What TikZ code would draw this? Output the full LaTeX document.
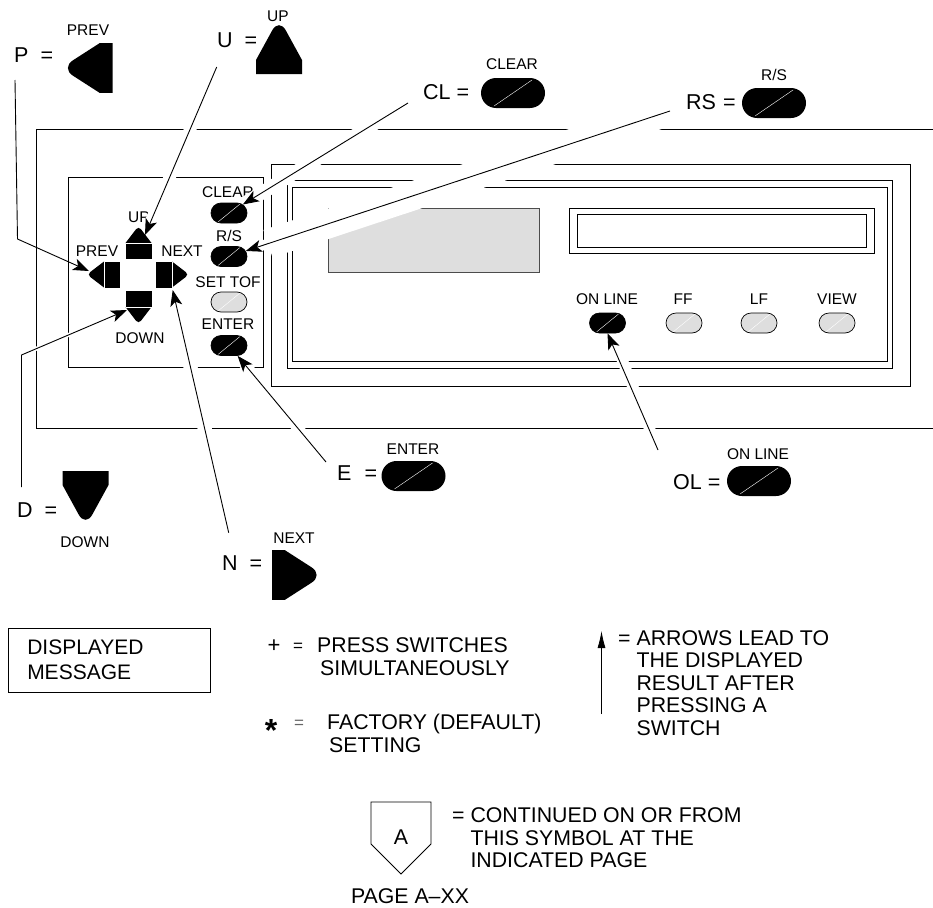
\documentclass[tikz,border=0pt]{standalone}
\usepackage{fontspec}
\setmainfont{Liberation Sans}
\usetikzlibrary{arrows.meta,shapes.misc}
\tikzset{
  frame/.style={line width=0.9pt},
  keylbl/.style={inner sep=0pt, font=\fontsize{15.5}{18}\selectfont},
  biglbl/.style={anchor=west, inner sep=0pt, font=\fontsize{21.5}{24}\selectfont},
  legend/.style={anchor=west, inner sep=0pt, align=left, font=\fontsize{21.3}{22.5}\selectfont},
  halo/.style={draw=white},
  lead/.style={line width=0.9pt, -{Stealth[length=16pt,width=12pt,inset=4pt]}},
  keysmall/.style={rounded rectangle, draw=black, line width=0.7pt, fill=#1, inner sep=0pt,
    minimum width=36pt, minimum height=20pt,
    path picture={\draw[white,line width=0.4pt] (path picture bounding box.center) +(-11,9) -- +(11,-9);}},
  keybig/.style={rounded rectangle, fill=black, inner sep=0pt,
    minimum width=64pt, minimum height=30pt,
    path picture={\draw[white,line width=0.4pt] (path picture bounding box.center) +(-19,13) -- +(19,-13);}},
  pics/bigarrow/.style={code={
    \fill (-23,0) -- (-23,-14) [rounded corners=14pt] -- (0,-56) [sharp corners] -- (23,-14) -- (23,0) -- cycle;}},
  pics/padkey/.style={code={
    \fill (-13,0) rectangle (13,-16);
    \fill (-13,-16) [rounded corners=4pt] -- (0,-33) [sharp corners] -- (13,-16) -- cycle;
    \draw[white,line width=0.5pt] (-13,-16) -- (13,-16);}}
}
\begin{document}
\begin{tikzpicture}[x=1pt,y=-1pt]
  \useasboundingbox (0,0) rectangle (933,907);
  % leader ends
  \coordinate (pfrom) at (15,80);
  \coordinate (pbend) at (17.5,239);
  \coordinate (pto) at (89,271);
  \coordinate (ufrom) at (216.7,67);
  \coordinate (uto) at (145,235);
  \coordinate (dfrom) at (21.5,487);
  \coordinate (dbend) at (21.5,355);
  \coordinate (dto) at (127,310);
  \coordinate (nfrom) at (228.7,532.7);
  \coordinate (nto) at (172.7,290);
  \coordinate (clfrom) at (408,103);
  \coordinate (clpos) at (229,213);
  \coordinate (rsfrom) at (670,111);
  \coordinate (rspos) at (229,256.5);
  \coordinate (rsend) at (268,243.7);
  \coordinate (efrom) at (326,462);
  \coordinate (epos) at (229,345.5);
  \coordinate (olfrom) at (658,450);
  \coordinate (olpos) at (607.5,323);
  % panel
  \draw[frame] (933,129.5) -| (36.5,428.5) -- (933,428.5);
  \draw[frame] (68,177.5) rectangle (263.5,367);
  \draw[frame] (271,164) rectangle (910,386);
  \draw[frame] (287,180) rectangle (892,368);
  \draw[frame] (292.5,187) rectangle (887,361);
  \draw[line width=0.8pt, draw=black!70, fill=black!13] (328,208) rectangle (539,272);
  \draw[frame] (569,208) rectangle (874,253);
  \draw[frame] (577.5,214.5) rectangle (866,247);
  % panel labels
  \node[keylbl] (lblup) at (139,217) {UP};
  \node[keylbl] (lblprev) at (97,251) {PREV};
  \node[keylbl] (lblnext) at (182,251) {NEXT};
  \node[keylbl] (lbldown) at (140,338) {DOWN};
  \node[keylbl] (lblclear) at (228,192) {CLEAR};
  \node[keylbl] (lblrs) at (229,236) {R/S};
  \node[keylbl] (lbltof) at (228,282) {SET TOF};
  \node[keylbl] (lblenter) at (228,324.5) {ENTER};
  \node[keylbl] (lblonline) at (607,299) {ON LINE};
  \node[keylbl] (lblff) at (683,299) {FF};
  \node[keylbl] (lbllf) at (759,299) {LF};
  \node[keylbl] (lblview) at (837,299) {VIEW};
  % white gaps round the leaders
  \foreach \a/\b/\w in {ufrom/uto/12, clfrom/clpos/13.5, rsfrom/rsend/29, rsfrom/rspos/10,
      efrom/epos/11, olfrom/olpos/11, nfrom/nto/14, dbend/dto/4}
    \draw[halo,line width=\w pt] (\a) -- (\b);
  % keys on the panel
  \pic at (138.5,259) {padkey};
  \pic[rotate=90] at (120,274.5) {padkey};
  \pic[rotate=-90] at (156,274.5) {padkey};
  \pic[rotate=180] at (138.5,291) {padkey};
  \node[keysmall=black] (clkey) at (clpos) {};
  \node[keysmall=black] (rskey) at (rspos) {};
  \node[keysmall=black!13] (tofkey) at (229,302) {};
  \node[keysmall=black] (ekey) at (epos) {};
  \node[keysmall=black] (olkey) at (olpos) {};
  \node[keysmall=black!13] (ffkey) at (684,323) {};
  \node[keysmall=black!13] (lfkey) at (759,323) {};
  \node[keysmall=black!13] (viewkey) at (837,323) {};
  % key legend
  \node[biglbl] (eqp) at (14,55) {P\hspace{12pt}=};
  \pic[rotate=90,xscale=1.08,yscale=.92] at (112.5,68) {bigarrow};
  \node[keylbl] (topprev) at (88,30) {PREV};
  \node[biglbl] (equ) at (217,40) {U\hspace{12pt}=};
  \pic at (279,74) {bigarrow};
  \node[keylbl] (topup) at (278,16) {UP};
  \node[biglbl] (eqcl) at (423,92.5) {CL\hspace{6pt}=};
  \node[keybig] (bigcl) at (513,93) {};
  \node[keylbl] (topcl) at (512,64) {CLEAR};
  \node[biglbl] (eqrs) at (686,102) {RS\hspace{7pt}=};
  \node[keybig] (bigrs) at (774,103) {};
  \node[keylbl] (toprs) at (774,75) {R/S};
  \node[biglbl] (eqd) at (17,510) {D\hspace{12pt}=};
  \pic[rotate=180] at (85.5,471) {bigarrow};
  \node[keylbl] (topdown) at (85,542) {DOWN};
  \node[biglbl] (eqn) at (222,563) {N\hspace{12pt}=};
  \pic[rotate=-90,xscale=1.08,yscale=.92] at (272,575) {bigarrow};
  \node[keylbl] (topnext) at (294,538) {NEXT};
  \node[biglbl] (eqe) at (337,473) {E\hspace{13pt}=};
  \node[keybig] (bige) at (413.5,476) {};
  \node[keylbl] (tope) at (413,449) {ENTER};
  \node[biglbl] (eqol) at (673,482) {OL\hspace{6pt}=};
  \node[keybig] (bigol) at (759,481) {};
  \node[keylbl] (topol) at (758,454) {ON LINE};
  % leaders
  \draw[lead] (pfrom) -- (pbend) -- (pto);
  \draw[lead] (ufrom) -- (uto);
  \draw[lead] (dfrom) -- (dbend) -- (dto);
  \draw[lead] (nfrom) -- (nto);
  \draw[lead] (clfrom) -- (clkey);
  \draw[lead] (rsfrom) -- (rskey);
  \draw[lead] (efrom) -- (ekey);
  \draw[lead] (olfrom) -- (olkey.south);
  % symbols explained
  \node[draw, line width=0.9pt, inner xsep=19pt, inner ysep=0pt, text width=164.5pt, minimum height=64pt,
    align=left, font=\fontsize{21}{25}\selectfont] (msg) at (109.5,660) {DISPLAYED\\MESSAGE};
  \node[inner sep=0pt, font=\fontsize{22}{24}\selectfont] (plus) at (274,646) {+};
  \node[inner sep=0pt, font=\fontsize{17}{20}\selectfont] (pluseq) at (298,647) {=};
  \node[legend] (press) at (317,656.5) {PRESS SWITCHES\\\hspace*{3pt}SIMULTANEOUSLY};
  \node[inner sep=0pt, font=\bfseries\fontsize{32}{32}\selectfont] (star) at (271,730) {*};
  \node[inner sep=0pt, text=black!60, font=\fontsize{17}{20}\selectfont] (stareq) at (299,724) {=};
  \node[legend] (factory) at (327,733.5) {FACTORY (DEFAULT)\\\hspace*{2pt}SETTING};
  \coordinate (legfrom) at (601.5,714);
  \coordinate (legto) at (601.5,631);
  \draw[line width=0.8pt, -{Latex[length=17pt,width=8pt]}] (legfrom) -- (legto);
  \node[legend] (arrows) at (618,683) {= ARROWS LEAD TO\\\phantom{= }THE DISPLAYED\\\phantom{= }RESULT AFTER\\\phantom{= }PRESSING A\\\phantom{= }SWITCH};
  \draw[frame] (371,844) |- (431,802) -- (431,844) -- (401,874) -- cycle;
  \node[inner sep=0pt, font=\fontsize{21.3}{24}\selectfont] (symA) at (401,837) {A};
  \node[legend] (contd) at (452,838) {= CONTINUED ON OR FROM\\\phantom{= }THIS SYMBOL AT THE\\\phantom{= }INDICATED PAGE};
  \node[inner sep=0pt, font=\fontsize{21.3}{24}\selectfont] (pagexx) at (410,896) {PAGE A--XX};
\end{tikzpicture}
\end{document}
